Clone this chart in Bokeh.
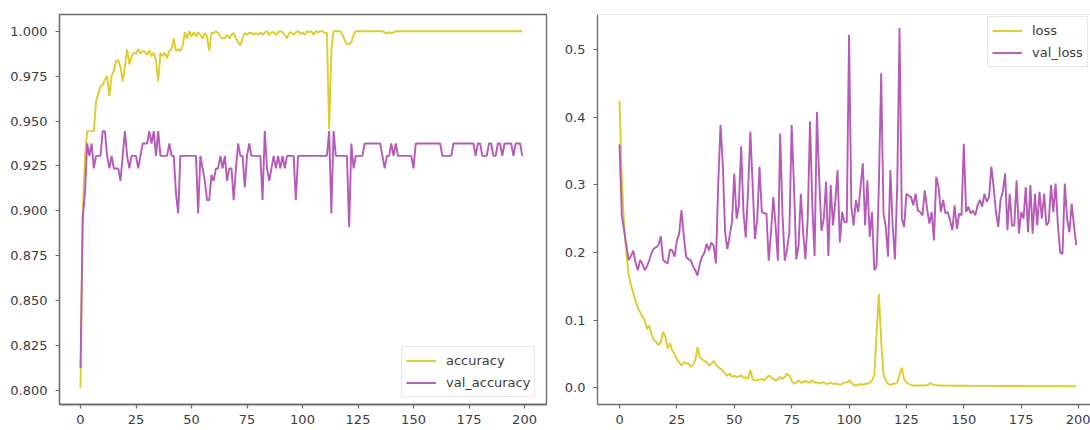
from bokeh.plotting import figure
from bokeh.models import Range1d, FixedTicker, PrintfTickFormatter, Legend, LegendItem, Span, ColumnDataSource
from bokeh.layouts import row
from bokeh.embed import file_html
from bokeh.resources import INLINE

epochs = list(range(200))

accuracy = [
    0.8015, 0.9000, 0.9300, 0.9444, 0.9444, 0.9444, 0.9444, 0.9610, 0.9650, 0.9694,
    0.9700, 0.9730, 0.9750, 0.9639, 0.9750, 0.9780, 0.9833, 0.9840, 0.9800, 0.9720,
    0.9800, 0.9900, 0.9815, 0.9860, 0.9880, 0.9875, 0.9900, 0.9875, 0.9890, 0.9885,
    0.9870, 0.9895, 0.9860, 0.9880, 0.9840, 0.9720, 0.9880, 0.9860, 0.9880, 0.9850,
    0.9890, 0.9900, 0.9960, 0.9890, 0.9900, 0.9890, 0.9920, 0.9994, 0.9960, 1.0000,
    0.9970, 0.9994, 0.9970, 0.9994, 0.9980, 0.9960, 0.9990, 0.9970, 0.9890, 0.9990,
    0.9990, 1.0000, 0.9990, 0.9970, 0.9960, 0.9960, 0.9980, 0.9960, 0.9980, 0.9990,
    0.9960, 0.9940, 0.9920, 0.9960, 0.9990, 0.9980, 0.9990, 0.9990, 0.9980, 0.9990,
    0.9980, 0.9994, 0.9980, 0.9994, 1.0000, 0.9980, 0.9994, 0.9994, 0.9980, 0.9994,
    1.0000, 0.9994, 0.9980, 0.9960, 0.9990, 0.9994, 0.9980, 0.9994, 1.0000, 0.9985,
    0.9994, 0.9980, 1.0000, 0.9994, 1.0000, 0.9980, 1.0000, 0.9994, 1.0000, 1.0000,
    0.9990, 0.9990, 0.9454, 0.9900, 1.0000, 1.0000, 1.0000, 1.0000, 0.9980, 0.9950,
    0.9930, 0.9926, 0.9940, 0.9980, 1.0000, 1.0000, 1.0000, 1.0000, 1.0000, 1.0000,
    1.0000, 1.0000, 1.0000, 1.0000, 1.0000, 1.0000, 1.0000, 0.9994, 0.9990, 0.9994,
    0.9988, 0.9994, 1.0000, 1.0000, 1.0000, 1.0000, 1.0000, 1.0000, 1.0000, 1.0000,
    1.0000, 1.0000, 1.0000, 1.0000, 1.0000, 1.0000, 1.0000, 1.0000, 1.0000, 1.0000,
    1.0000, 1.0000, 1.0000, 1.0000, 1.0000, 1.0000, 1.0000, 1.0000, 1.0000, 1.0000,
    1.0000, 1.0000, 1.0000, 1.0000, 1.0000, 1.0000, 1.0000, 1.0000, 1.0000, 1.0000,
    1.0000, 1.0000, 1.0000, 1.0000, 1.0000, 1.0000, 1.0000, 1.0000, 1.0000, 1.0000,
    1.0000, 1.0000, 1.0000, 1.0000, 1.0000, 1.0000, 1.0000, 1.0000, 1.0000, 1.0000,
]

val_accuracy = [
    0.8125, 0.8958, 0.9097, 0.9375, 0.9306, 0.9375, 0.9236, 0.9306, 0.9306, 0.9306,
    0.9444, 0.9444, 0.9306, 0.9236, 0.9306, 0.9236, 0.9236, 0.9236, 0.9167, 0.9306,
    0.9444, 0.9306, 0.9236, 0.9306, 0.9306, 0.9306, 0.9236, 0.9306, 0.9375, 0.9375,
    0.9375, 0.9444, 0.9375, 0.9444, 0.9306, 0.9444, 0.9306, 0.9306, 0.9306, 0.9306,
    0.9375, 0.9306, 0.9306, 0.9097, 0.8986, 0.9306, 0.9306, 0.9306, 0.9306, 0.9306,
    0.9306, 0.9306, 0.9306, 0.8986, 0.9306, 0.9236, 0.9167, 0.9060, 0.9060, 0.9200,
    0.9167, 0.9236, 0.9236, 0.9306, 0.9236, 0.9306, 0.9167, 0.9236, 0.9236, 0.9060,
    0.9236, 0.9375, 0.9306, 0.9306, 0.9130, 0.9306, 0.9375, 0.9306, 0.9306, 0.9306,
    0.9306, 0.9306, 0.9060, 0.9444, 0.9236, 0.9167, 0.9236, 0.9306, 0.9236, 0.9306,
    0.9236, 0.9306, 0.9236, 0.9306, 0.9306, 0.9306, 0.9306, 0.9060, 0.9306, 0.9306,
    0.9306, 0.9306, 0.9306, 0.9306, 0.9306, 0.9306, 0.9306, 0.9306, 0.9306, 0.9306,
    0.9306, 0.9306, 0.9444, 0.8986, 0.9444, 0.9306, 0.9306, 0.9306, 0.9306, 0.9306,
    0.9306, 0.8910, 0.9375, 0.9236, 0.9306, 0.9306, 0.9306, 0.9306, 0.9375, 0.9375,
    0.9375, 0.9375, 0.9375, 0.9375, 0.9375, 0.9375, 0.9306, 0.9236, 0.9306, 0.9306,
    0.9375, 0.9306, 0.9375, 0.9306, 0.9306, 0.9306, 0.9306, 0.9306, 0.9306, 0.9306,
    0.9236, 0.9375, 0.9375, 0.9375, 0.9375, 0.9375, 0.9375, 0.9375, 0.9375, 0.9375,
    0.9375, 0.9375, 0.9375, 0.9306, 0.9306, 0.9306, 0.9306, 0.9306, 0.9375, 0.9375,
    0.9375, 0.9375, 0.9375, 0.9375, 0.9375, 0.9375, 0.9375, 0.9375, 0.9306, 0.9375,
    0.9375, 0.9306, 0.9306, 0.9306, 0.9375, 0.9375, 0.9306, 0.9306, 0.9375, 0.9375,
    0.9306, 0.9375, 0.9375, 0.9375, 0.9375, 0.9306, 0.9375, 0.9375, 0.9375, 0.9306,
]

loss = [
    0.424, 0.310, 0.240, 0.199, 0.166, 0.152, 0.140, 0.129, 0.118, 0.112,
    0.105, 0.100, 0.087, 0.092, 0.078, 0.070, 0.068, 0.063, 0.068, 0.083,
    0.075, 0.058, 0.066, 0.055, 0.050, 0.042, 0.038, 0.033, 0.038, 0.036,
    0.036, 0.031, 0.034, 0.041, 0.060, 0.045, 0.042, 0.040, 0.038, 0.033,
    0.036, 0.040, 0.034, 0.031, 0.028, 0.025, 0.021, 0.018, 0.021, 0.016,
    0.018, 0.016, 0.017, 0.018, 0.015, 0.016, 0.013, 0.026, 0.013, 0.011,
    0.011, 0.012, 0.013, 0.011, 0.015, 0.018, 0.016, 0.013, 0.011, 0.013,
    0.016, 0.013, 0.016, 0.021, 0.018, 0.011, 0.006, 0.008, 0.011, 0.008,
    0.008, 0.011, 0.008, 0.008, 0.011, 0.008, 0.008, 0.006, 0.008, 0.008,
    0.006, 0.006, 0.008, 0.006, 0.006, 0.006, 0.0045, 0.006, 0.008, 0.008,
    0.011, 0.008, 0.0045, 0.0035, 0.0045, 0.006, 0.0045, 0.006, 0.006, 0.008,
    0.011, 0.018, 0.080, 0.139, 0.070, 0.020, 0.011, 0.006, 0.0045, 0.006,
    0.006, 0.008, 0.019, 0.030, 0.013, 0.008, 0.006, 0.0045, 0.0035, 0.0035,
    0.0035, 0.0035, 0.0035, 0.0035, 0.004, 0.006, 0.006, 0.0045, 0.004, 0.0035,
    0.0035, 0.0035, 0.0033, 0.0033, 0.0033, 0.0032, 0.0032, 0.0032, 0.0032, 0.0031,
    0.0031, 0.0031, 0.0031, 0.0030, 0.0030, 0.0030, 0.0030, 0.0030, 0.0029, 0.0029,
    0.0029, 0.0029, 0.0029, 0.0028, 0.0028, 0.0028, 0.0028, 0.0028, 0.0028, 0.0027,
    0.0027, 0.0027, 0.0027, 0.0027, 0.0027, 0.0026, 0.0026, 0.0026, 0.0026, 0.0026,
    0.0026, 0.0026, 0.0025, 0.0025, 0.0025, 0.0025, 0.0025, 0.0025, 0.0025, 0.0025,
    0.0025, 0.0024, 0.0024, 0.0024, 0.0024, 0.0024, 0.0024, 0.0024, 0.0024, 0.0024,
]

val_loss = [
    0.360, 0.255, 0.233, 0.210, 0.189, 0.195, 0.203, 0.185, 0.174, 0.189,
    0.183, 0.174, 0.180, 0.189, 0.200, 0.206, 0.208, 0.211, 0.224, 0.189,
    0.186, 0.184, 0.205, 0.203, 0.194, 0.218, 0.228, 0.263, 0.225, 0.194,
    0.190, 0.189, 0.180, 0.174, 0.166, 0.184, 0.194, 0.200, 0.213, 0.203,
    0.215, 0.210, 0.184, 0.300, 0.389, 0.330, 0.230, 0.205, 0.225, 0.245,
    0.317, 0.250, 0.270, 0.357, 0.260, 0.222, 0.290, 0.379, 0.300, 0.220,
    0.250, 0.327, 0.260, 0.258, 0.258, 0.188, 0.230, 0.282, 0.240, 0.188,
    0.376, 0.257, 0.188, 0.205, 0.230, 0.389, 0.300, 0.190, 0.210, 0.287,
    0.230, 0.190, 0.250, 0.394, 0.270, 0.195, 0.408, 0.310, 0.232, 0.250,
    0.305, 0.195, 0.300, 0.240, 0.275, 0.322, 0.215, 0.260, 0.245, 0.245,
    0.522, 0.268, 0.240, 0.278, 0.260, 0.297, 0.332, 0.240, 0.307, 0.223,
    0.260, 0.174, 0.180, 0.300, 0.465, 0.258, 0.238, 0.194, 0.322, 0.240,
    0.190, 0.300, 0.532, 0.250, 0.238, 0.287, 0.284, 0.282, 0.270, 0.287,
    0.262, 0.260, 0.255, 0.292, 0.265, 0.243, 0.260, 0.218, 0.312, 0.297,
    0.260, 0.278, 0.258, 0.260, 0.248, 0.233, 0.270, 0.235, 0.258, 0.255,
    0.361, 0.260, 0.268, 0.258, 0.262, 0.255, 0.270, 0.278, 0.268, 0.287,
    0.275, 0.282, 0.327, 0.297, 0.260, 0.238, 0.278, 0.290, 0.317, 0.233,
    0.287, 0.240, 0.240, 0.307, 0.228, 0.260, 0.250, 0.297, 0.230, 0.300,
    0.228, 0.287, 0.240, 0.290, 0.250, 0.287, 0.240, 0.245, 0.300, 0.260,
    0.302, 0.240, 0.200, 0.198, 0.302, 0.250, 0.230, 0.272, 0.240, 0.211,
]

x_ticks = [0, 25, 50, 75, 100, 125, 150, 175, 200]
acc_ticks = [0.800, 0.825, 0.850, 0.875, 0.900, 0.925, 0.950, 0.975, 1.000]
loss_ticks = [0.0, 0.1, 0.2, 0.3, 0.4, 0.5]

YELLOW = "#dccd2c"
MAGENTA = "#b65ab8"
SPINE = "#6a6a6a"
TEXT = "#3c3c3c"
FONT = "DejaVu Sans"


def style_axes(p):
    for ax in (p.xaxis[0], p.yaxis[0]):
        ax.axis_line_color = SPINE
        ax.axis_line_width = 1.3
        ax.major_tick_line_color = SPINE
        ax.major_tick_line_width = 1.2
        ax.major_tick_in = 0
        ax.major_tick_out = 4
        ax.minor_tick_line_color = None
        ax.major_label_text_font = FONT
        ax.major_label_text_font_size = "13px"
        ax.major_label_text_color = TEXT
    p.xaxis.major_label_standoff = 6
    p.yaxis.major_label_standoff = 8
    p.xgrid.grid_line_color = None
    p.ygrid.grid_line_color = None
    p.xaxis.ticker = FixedTicker(ticks=x_ticks)


def make_legend(items, loc):
    lg = Legend(items=items, location=loc)
    lg.label_text_font = FONT
    lg.label_text_font_size = "13px"
    lg.label_text_color = TEXT
    lg.glyph_width = 30
    lg.glyph_height = 19
    lg.label_height = 19
    lg.label_standoff = 10
    lg.padding = 4
    lg.spacing = 3
    lg.margin = 0
    lg.border_line_color = "#cfcfcf"
    lg.border_line_width = 1
    lg.background_fill_alpha = 0.85
    return lg


# ---- left: accuracy ----
src_acc = ColumnDataSource(dict(x=epochs, acc=accuracy, val=val_accuracy))
p1 = figure(width=560, height=430, output_backend="svg", toolbar_location=None,
            x_range=Range1d(-9.46, 209.9), y_range=Range1d(0.7922, 1.0093),
            min_border_left=59, min_border_right=14, min_border_top=14, min_border_bottom=26)
p1.outline_line_color = SPINE
p1.outline_line_width = 1.3
style_axes(p1)
p1.yaxis.ticker = FixedTicker(ticks=acc_ticks)
p1.yaxis.formatter = PrintfTickFormatter(format="%.3f")
r_acc = p1.line("x", "acc", source=src_acc, line_color=YELLOW, line_width=1.9)
r_vacc = p1.line("x", "val", source=src_acc, line_color=MAGENTA, line_width=1.9)
p1.add_layout(make_legend([LegendItem(label="accuracy", renderers=[r_acc]),
                           LegendItem(label="val_accuracy", renderers=[r_vacc])], (342, 7)))

# ---- right: loss ----
src_loss = ColumnDataSource(dict(x=epochs, loss=loss, val=val_loss))
p2 = figure(width=530, height=430, output_backend="svg", toolbar_location=None,
            x_range=Range1d(-9.59, 205.2), y_range=Range1d(-0.0246, 0.552),
            min_border_left=37, min_border_right=0, min_border_top=13, min_border_bottom=26)
p2.outline_line_color = None
style_axes(p2)
p2.yaxis.ticker = FixedTicker(ticks=loss_ticks)
p2.yaxis.formatter = PrintfTickFormatter(format="%.1f")
p2.add_layout(Span(location=0.552, dimension="width", line_color="#dedede", line_width=1))
r_loss = p2.line("x", "loss", source=src_loss, line_color=YELLOW, line_width=1.9)
r_vloss = p2.line("x", "val", source=src_loss, line_color=MAGENTA, line_width=1.9)
p2.add_layout(make_legend([LegendItem(label="loss", renderers=[r_loss]),
                           LegendItem(label="val_loss", renderers=[r_vloss])], (390, 337)))

layout = row(p1, p2)
open("out.html", "w").write(file_html(layout, INLINE))
